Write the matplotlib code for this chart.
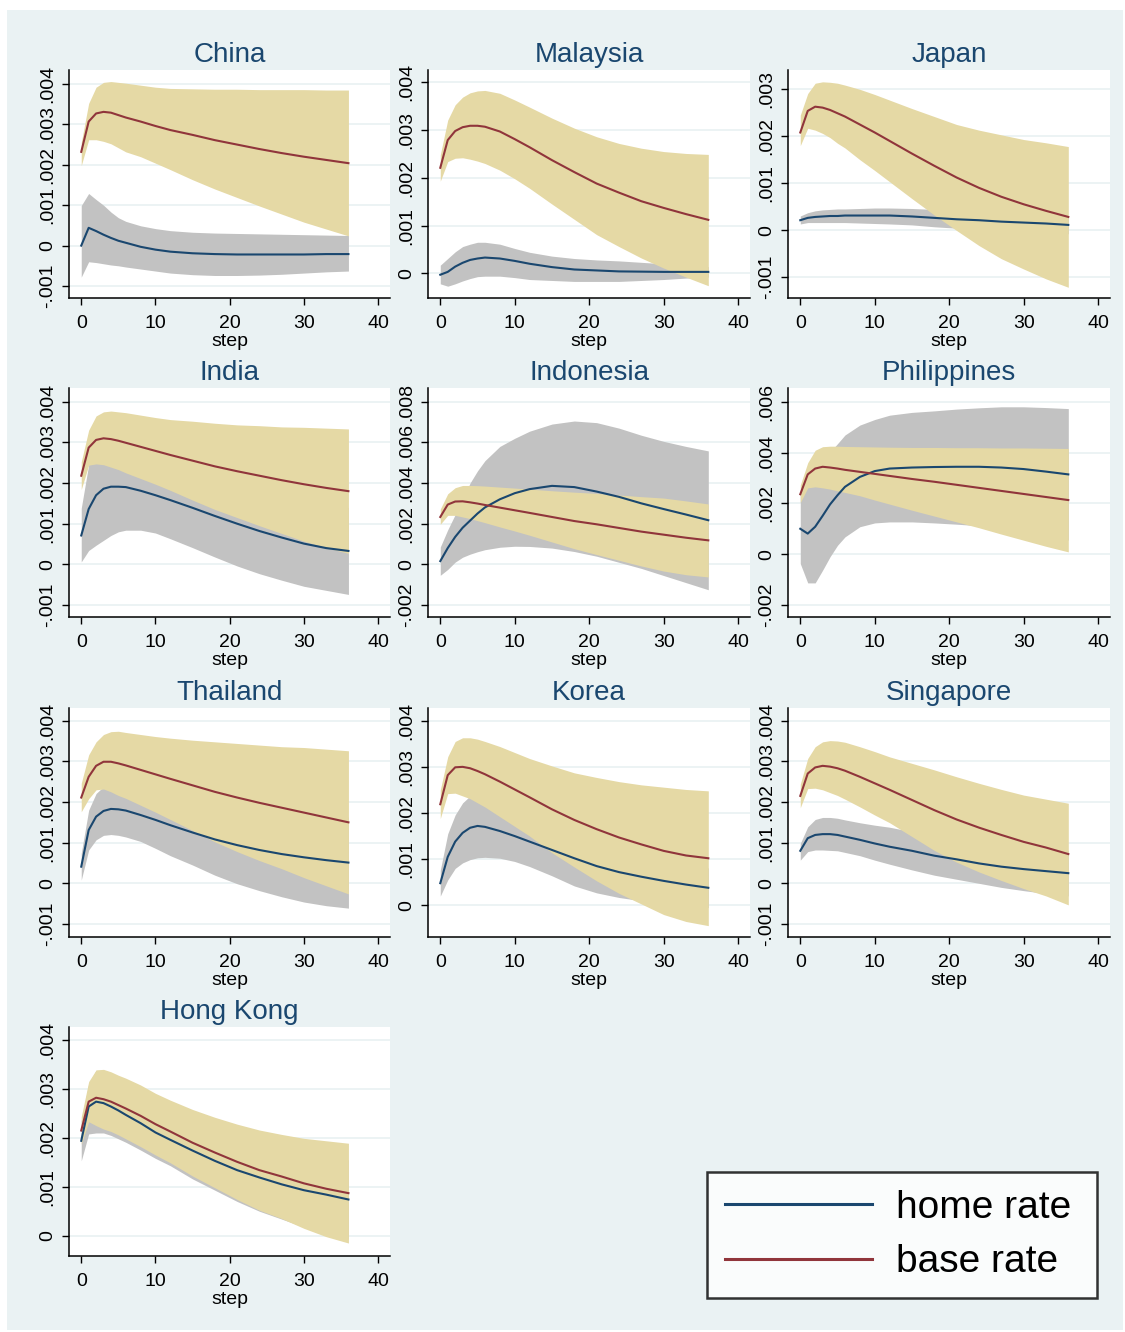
import matplotlib
matplotlib.use("Agg")
import matplotlib.pyplot as plt
from matplotlib.patches import Rectangle
import numpy as np

plt.rcParams['font.family'] = ['Liberation Sans', 'DejaVu Sans']

# ---------------- data (values in units of 0.001) ----------------
steps = [0, 1, 2, 3, 4, 5, 6, 8, 10, 12, 15, 18, 21, 24, 27, 30, 33, 36]
countries = ['China', 'Malaysia', 'Japan', 'India', 'Indonesia', 'Philippines',
             'Thailand', 'Korea', 'Singapore', 'Hong Kong']
legend_labels = ['home rate', 'base rate']

china_home    = [0.00, 0.44, 0.36, 0.27, 0.19, 0.12, 0.07, -0.03, -0.10, -0.15, -0.19, -0.21, -0.22, -0.22, -0.22, -0.22, -0.21, -0.21]
china_home_lo = [-0.78, -0.40, -0.42, -0.45, -0.48, -0.50, -0.53, -0.58, -0.63, -0.68, -0.72, -0.74, -0.74, -0.73, -0.71, -0.68, -0.65, -0.63]
china_home_hi = [0.99, 1.29, 1.14, 1.00, 0.83, 0.69, 0.60, 0.49, 0.42, 0.37, 0.33, 0.31, 0.30, 0.29, 0.28, 0.27, 0.26, 0.25]
china_base    = [2.32, 3.07, 3.27, 3.31, 3.29, 3.23, 3.17, 3.07, 2.96, 2.86, 2.74, 2.61, 2.50, 2.39, 2.29, 2.20, 2.12, 2.04]
china_base_lo = [1.98, 2.62, 2.62, 2.58, 2.52, 2.42, 2.32, 2.20, 2.04, 1.88, 1.63, 1.40, 1.19, 0.98, 0.78, 0.58, 0.41, 0.24]
china_base_hi = [2.55, 3.52, 3.92, 4.04, 4.06, 4.04, 4.02, 3.97, 3.92, 3.89, 3.88, 3.87, 3.87, 3.86, 3.86, 3.86, 3.85, 3.85]

malaysia_home    = [-0.03, 0.03, 0.14, 0.22, 0.28, 0.31, 0.33, 0.31, 0.26, 0.20, 0.13, 0.08, 0.06, 0.04, 0.035, 0.03, 0.03, 0.03]
malaysia_home_lo = [-0.22, -0.27, -0.22, -0.16, -0.11, -0.07, -0.06, -0.06, -0.09, -0.13, -0.15, -0.17, -0.17, -0.17, -0.15, -0.13, -0.10, -0.08]
malaysia_home_hi = [0.17, 0.31, 0.45, 0.56, 0.61, 0.65, 0.65, 0.61, 0.52, 0.44, 0.36, 0.31, 0.28, 0.26, 0.23, 0.20, 0.17, 0.14]
malaysia_base    = [2.21, 2.79, 2.98, 3.06, 3.09, 3.09, 3.07, 2.97, 2.81, 2.64, 2.37, 2.12, 1.88, 1.69, 1.51, 1.37, 1.24, 1.12]
malaysia_base_lo = [1.93, 2.34, 2.41, 2.42, 2.39, 2.35, 2.30, 2.16, 1.98, 1.78, 1.45, 1.13, 0.81, 0.56, 0.32, 0.11, -0.08, -0.26]
malaysia_base_hi = [2.48, 3.21, 3.53, 3.69, 3.78, 3.82, 3.83, 3.77, 3.63, 3.48, 3.25, 3.04, 2.86, 2.72, 2.62, 2.55, 2.51, 2.49]

japan_home    = [0.21, 0.26, 0.28, 0.29, 0.30, 0.30, 0.31, 0.31, 0.31, 0.31, 0.29, 0.26, 0.23, 0.21, 0.18, 0.16, 0.14, 0.11]
japan_home_lo = [0.13, 0.16, 0.16, 0.16, 0.16, 0.16, 0.16, 0.15, 0.14, 0.13, 0.11, 0.07, 0.04, 0.02, 0.00, -0.02, -0.04, -0.08]
japan_home_hi = [0.30, 0.37, 0.41, 0.43, 0.44, 0.45, 0.45, 0.46, 0.47, 0.47, 0.46, 0.44, 0.41, 0.39, 0.36, 0.34, 0.32, 0.30]
japan_base    = [2.08, 2.54, 2.63, 2.61, 2.56, 2.49, 2.42, 2.25, 2.08, 1.90, 1.63, 1.37, 1.12, 0.90, 0.71, 0.55, 0.41, 0.28]
japan_base_lo = [1.80, 2.17, 2.13, 2.06, 1.97, 1.85, 1.75, 1.50, 1.27, 1.03, 0.67, 0.32, -0.01, -0.33, -0.61, -0.83, -1.04, -1.22]
japan_base_hi = [2.45, 2.91, 3.13, 3.16, 3.15, 3.13, 3.09, 3.00, 2.89, 2.77, 2.59, 2.42, 2.25, 2.13, 2.03, 1.93, 1.86, 1.78]

india_home    = [0.71, 1.36, 1.70, 1.86, 1.91, 1.91, 1.90, 1.81, 1.70, 1.58, 1.39, 1.19, 1.00, 0.82, 0.66, 0.51, 0.40, 0.33]
india_home_lo = [0.06, 0.34, 0.47, 0.59, 0.71, 0.80, 0.84, 0.84, 0.77, 0.63, 0.41, 0.18, -0.04, -0.23, -0.39, -0.54, -0.64, -0.74]
india_home_hi = [1.38, 2.45, 2.93, 3.13, 3.11, 3.02, 2.96, 2.78, 2.63, 2.53, 2.37, 2.20, 2.04, 1.87, 1.71, 1.56, 1.44, 1.40]
india_base    = [2.18, 2.87, 3.06, 3.10, 3.08, 3.04, 2.99, 2.89, 2.79, 2.69, 2.55, 2.41, 2.29, 2.18, 2.07, 1.97, 1.88, 1.80]
india_base_lo = [1.84, 2.44, 2.47, 2.45, 2.39, 2.33, 2.25, 2.11, 1.97, 1.82, 1.58, 1.35, 1.15, 0.95, 0.76, 0.57, 0.41, 0.27]
india_base_hi = [2.52, 3.30, 3.65, 3.75, 3.77, 3.75, 3.73, 3.67, 3.61, 3.56, 3.52, 3.47, 3.43, 3.41, 3.38, 3.37, 3.35, 3.33]

indonesia_home    = [0.16, 0.80, 1.35, 1.80, 2.15, 2.50, 2.80, 3.20, 3.50, 3.70, 3.86, 3.80, 3.58, 3.32, 3.00, 2.72, 2.45, 2.17]
indonesia_home_lo = [-0.54, -0.25, 0.11, 0.35, 0.50, 0.62, 0.72, 0.84, 0.89, 0.88, 0.80, 0.63, 0.40, 0.10, -0.20, -0.55, -0.90, -1.25]
indonesia_home_hi = [0.85, 1.70, 2.45, 3.20, 4.00, 4.60, 5.10, 5.80, 6.20, 6.55, 6.90, 7.05, 6.97, 6.70, 6.35, 6.05, 5.80, 5.58]
indonesia_base    = [2.33, 2.94, 3.09, 3.10, 3.05, 2.99, 2.92, 2.79, 2.66, 2.53, 2.33, 2.13, 1.97, 1.79, 1.61, 1.46, 1.31, 1.18]
indonesia_base_lo = [1.97, 2.41, 2.41, 2.33, 2.25, 2.15, 2.05, 1.84, 1.64, 1.43, 1.10, 0.77, 0.48, 0.20, -0.08, -0.33, -0.51, -0.62]
indonesia_base_hi = [2.72, 3.47, 3.77, 3.88, 3.88, 3.87, 3.85, 3.80, 3.75, 3.70, 3.62, 3.55, 3.49, 3.41, 3.33, 3.26, 3.12, 2.97]

philippines_home    = [1.00, 0.81, 1.08, 1.51, 1.96, 2.32, 2.65, 3.04, 3.27, 3.37, 3.41, 3.43, 3.44, 3.44, 3.41, 3.35, 3.25, 3.14]
philippines_home_lo = [-0.37, -1.13, -1.13, -0.63, -0.10, 0.35, 0.68, 1.08, 1.23, 1.27, 1.27, 1.23, 1.18, 1.12, 1.02, 0.90, 0.73, 0.55]
philippines_home_hi = [2.35, 2.75, 3.29, 3.65, 4.02, 4.35, 4.69, 5.08, 5.30, 5.47, 5.58, 5.64, 5.71, 5.76, 5.80, 5.80, 5.77, 5.73]
philippines_base    = [2.36, 3.14, 3.37, 3.44, 3.41, 3.37, 3.32, 3.24, 3.16, 3.08, 2.96, 2.85, 2.73, 2.61, 2.49, 2.37, 2.25, 2.13]
philippines_base_lo = [2.03, 2.61, 2.65, 2.61, 2.56, 2.49, 2.43, 2.30, 2.13, 1.97, 1.73, 1.50, 1.27, 1.04, 0.79, 0.55, 0.31, 0.09]
philippines_base_hi = [2.72, 3.60, 4.09, 4.23, 4.25, 4.25, 4.24, 4.23, 4.22, 4.21, 4.20, 4.20, 4.19, 4.19, 4.18, 4.18, 4.17, 4.16]

thailand_home    = [0.41, 1.31, 1.64, 1.78, 1.83, 1.82, 1.79, 1.68, 1.56, 1.43, 1.25, 1.08, 0.94, 0.82, 0.72, 0.64, 0.57, 0.51]
thailand_home_lo = [0.08, 0.82, 1.07, 1.18, 1.20, 1.18, 1.14, 1.03, 0.86, 0.68, 0.45, 0.20, -0.01, -0.18, -0.33, -0.46, -0.55, -0.61]
thailand_home_hi = [0.74, 1.80, 2.21, 2.38, 2.46, 2.46, 2.44, 2.33, 2.26, 2.18, 2.05, 1.96, 1.89, 1.82, 1.77, 1.74, 1.69, 1.63]
thailand_base    = [2.11, 2.62, 2.89, 2.99, 2.99, 2.95, 2.90, 2.79, 2.68, 2.57, 2.41, 2.25, 2.11, 1.98, 1.86, 1.74, 1.62, 1.50]
thailand_base_lo = [1.76, 2.08, 2.30, 2.32, 2.25, 2.16, 2.09, 1.92, 1.75, 1.57, 1.30, 1.02, 0.78, 0.56, 0.36, 0.14, -0.06, -0.26]
thailand_base_hi = [2.46, 3.16, 3.48, 3.66, 3.73, 3.74, 3.71, 3.66, 3.61, 3.57, 3.52, 3.48, 3.44, 3.40, 3.36, 3.34, 3.30, 3.26]

korea_home    = [0.48, 1.05, 1.38, 1.57, 1.68, 1.72, 1.70, 1.61, 1.50, 1.38, 1.20, 1.02, 0.85, 0.72, 0.62, 0.53, 0.45, 0.38]
korea_home_lo = [0.20, 0.55, 0.80, 0.92, 0.99, 1.03, 1.04, 1.02, 0.95, 0.84, 0.64, 0.42, 0.27, 0.17, 0.10, 0.03, -0.02, -0.05]
korea_home_hi = [0.76, 1.55, 1.96, 2.22, 2.37, 2.41, 2.36, 2.20, 2.05, 1.92, 1.76, 1.62, 1.43, 1.27, 1.14, 1.03, 0.92, 0.81]
korea_base    = [2.19, 2.82, 2.99, 3.00, 2.97, 2.91, 2.84, 2.68, 2.51, 2.34, 2.08, 1.85, 1.65, 1.47, 1.32, 1.18, 1.08, 1.02]
korea_base_lo = [1.88, 2.42, 2.43, 2.37, 2.31, 2.22, 2.13, 1.92, 1.71, 1.50, 1.14, 0.83, 0.53, 0.26, 0.03, -0.20, -0.35, -0.44]
korea_base_hi = [2.50, 3.22, 3.55, 3.63, 3.63, 3.60, 3.55, 3.44, 3.31, 3.18, 3.02, 2.87, 2.77, 2.68, 2.61, 2.56, 2.51, 2.48]

singapore_home    = [0.80, 1.11, 1.19, 1.21, 1.21, 1.19, 1.15, 1.07, 0.98, 0.90, 0.80, 0.68, 0.59, 0.49, 0.41, 0.35, 0.30, 0.25]
singapore_home_lo = [0.57, 0.78, 0.82, 0.82, 0.81, 0.80, 0.76, 0.68, 0.57, 0.47, 0.33, 0.20, 0.10, 0.00, -0.10, -0.18, -0.25, -0.31]
singapore_home_hi = [0.98, 1.39, 1.57, 1.62, 1.62, 1.60, 1.56, 1.49, 1.43, 1.38, 1.27, 1.16, 1.08, 0.98, 0.92, 0.88, 0.85, 0.81]
singapore_base    = [2.15, 2.70, 2.85, 2.89, 2.87, 2.83, 2.77, 2.62, 2.46, 2.30, 2.05, 1.80, 1.57, 1.37, 1.19, 1.02, 0.88, 0.72]
singapore_base_lo = [1.86, 2.33, 2.34, 2.30, 2.23, 2.16, 2.07, 1.88, 1.68, 1.49, 1.15, 0.81, 0.52, 0.28, 0.07, -0.13, -0.31, -0.53]
singapore_base_hi = [2.44, 3.07, 3.36, 3.48, 3.51, 3.50, 3.47, 3.36, 3.24, 3.11, 2.95, 2.79, 2.62, 2.46, 2.31, 2.17, 2.07, 1.97]

hongkong_home    = [1.94, 2.64, 2.74, 2.71, 2.64, 2.56, 2.47, 2.30, 2.11, 1.96, 1.74, 1.53, 1.34, 1.19, 1.05, 0.93, 0.84, 0.74]
hongkong_home_lo = [1.53, 2.08, 2.10, 2.10, 2.05, 1.98, 1.91, 1.75, 1.58, 1.43, 1.16, 0.93, 0.70, 0.50, 0.34, 0.18, 0.03, -0.07]
hongkong_home_hi = [2.35, 3.10, 3.38, 3.32, 3.23, 3.14, 3.03, 2.85, 2.64, 2.49, 2.32, 2.13, 1.98, 1.88, 1.76, 1.68, 1.65, 1.55]
hongkong_base    = [2.15, 2.74, 2.82, 2.79, 2.74, 2.67, 2.60, 2.45, 2.28, 2.13, 1.90, 1.70, 1.51, 1.34, 1.21, 1.07, 0.96, 0.87]
hongkong_base_lo = [1.87, 2.33, 2.25, 2.18, 2.13, 2.06, 1.98, 1.82, 1.65, 1.49, 1.22, 0.98, 0.74, 0.52, 0.35, 0.15, -0.02, -0.15]
hongkong_base_hi = [2.43, 3.15, 3.39, 3.40, 3.35, 3.28, 3.22, 3.08, 2.91, 2.77, 2.58, 2.42, 2.28, 2.16, 2.07, 1.99, 1.94, 1.89]

panel_data = {
    'China': (china_home, china_home_lo, china_home_hi, china_base, china_base_lo, china_base_hi),
    'Malaysia': (malaysia_home, malaysia_home_lo, malaysia_home_hi, malaysia_base, malaysia_base_lo, malaysia_base_hi),
    'Japan': (japan_home, japan_home_lo, japan_home_hi, japan_base, japan_base_lo, japan_base_hi),
    'India': (india_home, india_home_lo, india_home_hi, india_base, india_base_lo, india_base_hi),
    'Indonesia': (indonesia_home, indonesia_home_lo, indonesia_home_hi, indonesia_base, indonesia_base_lo, indonesia_base_hi),
    'Philippines': (philippines_home, philippines_home_lo, philippines_home_hi, philippines_base, philippines_base_lo, philippines_base_hi),
    'Thailand': (thailand_home, thailand_home_lo, thailand_home_hi, thailand_base, thailand_base_lo, thailand_base_hi),
    'Korea': (korea_home, korea_home_lo, korea_home_hi, korea_base, korea_base_lo, korea_base_hi),
    'Singapore': (singapore_home, singapore_home_lo, singapore_home_hi, singapore_base, singapore_base_lo, singapore_base_hi),
    'Hong Kong': (hongkong_home, hongkong_home_lo, hongkong_home_hi, hongkong_base, hongkong_base_lo, hongkong_base_hi),
}

# y-axis ticks (min, max, step) and limits for each panel
ytick_spec = {
    'China': (-0.001, 0.004, 0.001), 'Malaysia': (0.0, 0.004, 0.001), 'Japan': (-0.001, 0.003, 0.001),
    'India': (-0.001, 0.004, 0.001), 'Indonesia': (-0.002, 0.008, 0.002), 'Philippines': (-0.002, 0.006, 0.002),
    'Thailand': (-0.001, 0.004, 0.001), 'Korea': (0.0, 0.004, 0.001), 'Singapore': (-0.001, 0.004, 0.001),
    'Hong Kong': (0.0, 0.004, 0.001),
}
ylims = {
    'China': (-0.001297, 0.004346), 'Malaysia': (-0.000517, 0.004258), 'Japan': (-0.001448, 0.003412),
    'India': (-0.001295, 0.004337), 'Indonesia': (-0.00259, 0.008674), 'Philippines': (-0.002472, 0.00654),
    'Thailand': (-0.00132, 0.004312), 'Korea': (-0.000686, 0.004275), 'Singapore': (-0.00132, 0.004312),
    'Hong Kong': (-0.000415, 0.004266),
}
xticks = [0, 10, 20, 30, 40]

# ---------------- style ----------------
W, H = 1125, 1332
BG = '#EAF2F3'
NAVY = '#1a476f'
MAROON = '#90353b'
GRAY = '#C2C2C2'
TAN = '#E5D9A5'

col_left = [69, 428, 788]
col_right = [390, 750, 1110]
row_top = [70, 388, 708, 1027]
row_bot = [298, 617, 937, 1256]

fig = plt.figure(figsize=(W / 100, H / 100), dpi=100)
fig.patch.set_facecolor('white')
fig.patches.append(Rectangle((7 / W, 1 - 1330 / H), (1123 - 7) / W, (1330 - 10) / H,
                             transform=fig.transFigure, facecolor=BG, edgecolor='none', zorder=-10))


def fmt(v):
    if abs(v) < 1e-12:
        return '0'
    s = f'{v:.3f}'
    return s.replace('0.', '.', 1)


scale = 1e-3
line_handles = None
for i, name in enumerate(countries):
    r, c = divmod(i, 3)
    l, rr = col_left[c], col_right[c]
    t, b = row_top[r], row_bot[r]
    ax = fig.add_axes([l / W, 1 - b / H, (rr - l) / W, (b - t) / H])
    ax.set_facecolor('white')
    home, home_lo, home_hi, base, base_lo, base_hi = [np.array(a) * scale for a in panel_data[name]]
    ax.fill_between(steps, home_lo, home_hi, color=GRAY, lw=0, zorder=2)
    ax.fill_between(steps, base_lo, base_hi, color=TAN, lw=0, zorder=3)
    h1, = ax.plot(steps, home, color=NAVY, lw=1.5, zorder=4)
    h2, = ax.plot(steps, base, color=MAROON, lw=1.5, zorder=5)
    line_handles = [h1, h2]

    ax.set_xlim(-1.65, 41.6)
    ax.set_ylim(*ylims[name])
    lo, hi, st = ytick_spec[name]
    yt = np.arange(lo, hi + st / 2, st)
    ax.set_yticks(yt)
    ax.set_yticklabels([fmt(v) for v in yt], rotation=90, va='center')
    ax.set_xticks(xticks)
    ax.set_xticklabels([str(x) for x in xticks])
    ax.grid(axis='y', color=BG, lw=1.3, zorder=0)
    ax.set_axisbelow(True)
    for s in ['top', 'right']:
        ax.spines[s].set_visible(False)
    for s in ['left', 'bottom']:
        ax.spines[s].set_linewidth(1.1)
        ax.spines[s].set_color('black')
    ax.tick_params(axis='both', direction='out', length=5, width=1.0, color='black',
                   labelsize=14, labelcolor='black')
    ax.tick_params(axis='x', pad=7)
    ax.tick_params(axis='y', pad=4)
    ax.set_xlabel('step', fontsize=14, labelpad=1)
    ax.set_title(name, fontsize=20, color=NAVY, pad=6)

leg = fig.legend(line_handles, legend_labels,
                 loc='upper left',
                 bbox_to_anchor=(707 / W, 1 - 1298 / H, (1097 - 707) / W, (1298 - 1172) / H),
                 mode='expand', fontsize=28, handlelength=3.8, handletextpad=0.6,
                 labelspacing=0.48, borderpad=0.45, borderaxespad=0,
                 frameon=True, fancybox=False, edgecolor='black', facecolor='white')
leg.get_frame().set_linewidth(1.8)
for ln in leg.get_lines():
    ln.set_linewidth(2.2)

fig.savefig('out.png', dpi=100, facecolor=fig.get_facecolor())
